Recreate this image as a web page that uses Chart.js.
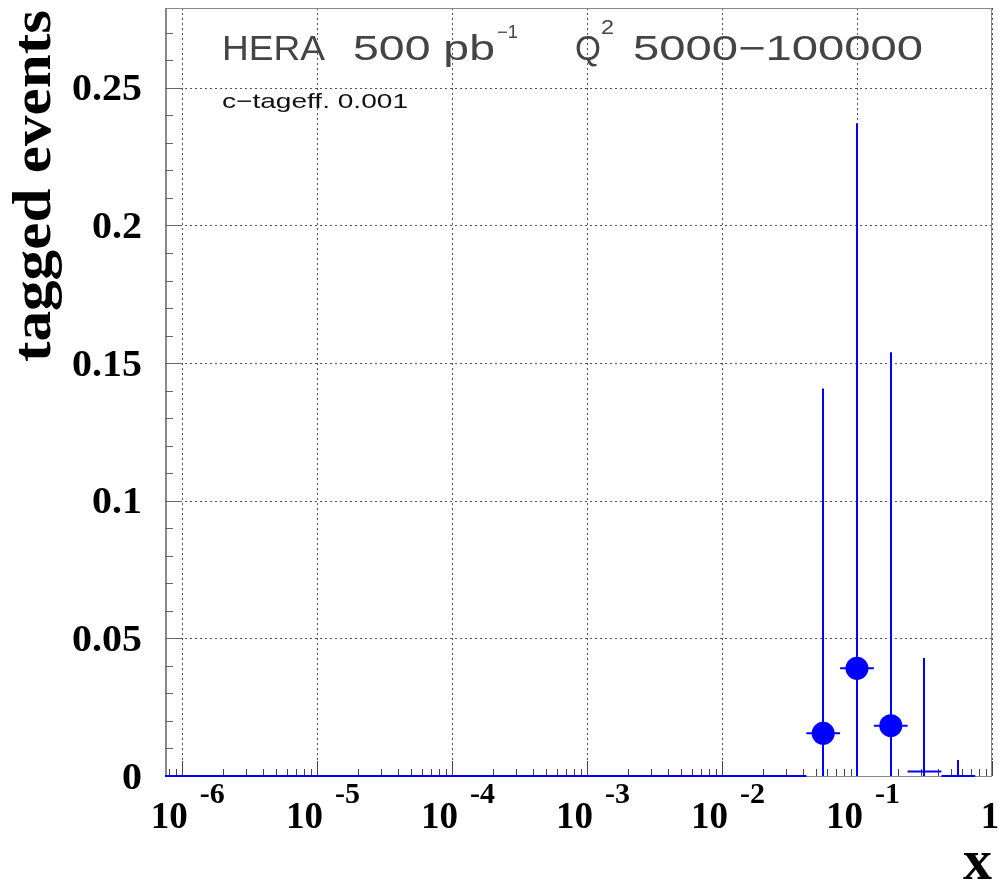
<!DOCTYPE html>
<html>
<head>
<meta charset="utf-8">
<script src="https://cdn.jsdelivr.net/npm/chart.js@4.4.1/dist/chart.umd.min.js"></script>
<style>
  html, body { margin: 0; padding: 0; background: #fff; }
</style>
</head>
<body>
<canvas id="chart" width="998" height="882"></canvas>
<script>
// bins are 0.25 decade wide in x
const binEdges = [0.0422, 0.075, 0.1334, 0.2371, 0.4217, 0.75];
const binCenters = [0.0562, 0.1, 0.178, 0.316, 0.562];
const taggedEvents = [0.0155, 0.0391, 0.0183, 0.0016, 0];
const statErrors = [0.1253, 0.198, 0.1356, 0.0413, 0.0058];
const showMarker = [true, true, true, false, false];
// empty bins, drawn as a line on zero
const emptyRange = [7.5e-7, 0.0422];

const xDecades = [1e-6, 1e-5, 1e-4, 1e-3, 1e-2, 1e-1, 1];
const xExponents = ['-6', '-5', '-4', '-3', '-2', '-1', ''];
const yTicks = [0, 0.05, 0.1, 0.15, 0.2, 0.25];
const yTickLabels = ['0', '0.05', '0.1', '0.15', '0.2', '0.25'];

const BLUE = '#0000ff';
const SERIF = '"Liberation Serif", "Times New Roman", serif';
const SANS = '"Liberation Sans", Arial, sans-serif';

function drawText(ctx, txt, x, y, font, sx, align) {
  ctx.save();
  ctx.font = font;
  ctx.textAlign = align || 'left';
  ctx.textBaseline = 'alphabetic';
  ctx.translate(x, y);
  ctx.scale(sx || 1, 1);
  ctx.fillText(txt, 0, 0);
  ctx.restore();
}

// scale text so it spans a given width
function fitText(ctx, txt, x, y, font, width) {
  ctx.save();
  ctx.font = font;
  ctx.textAlign = 'left';
  ctx.textBaseline = 'alphabetic';
  const s = width / ctx.measureText(txt).width;
  ctx.translate(x, y);
  ctx.scale(s, 1);
  ctx.fillText(txt, 0, 0);
  ctx.restore();
}

const framePlugin = {
  id: 'frame',
  beforeDatasetsDraw(chart) {
    const ctx = chart.ctx;
    const a = chart.chartArea;
    const xs = chart.scales.x, ys = chart.scales.y;

    ctx.save();
    // dotted grid
    ctx.strokeStyle = '#555';
    ctx.lineWidth = 1;
    ctx.setLineDash([2, 3]);
    xDecades.forEach(v => {
      const px = Math.round(xs.getPixelForValue(v)) + 0.5;
      ctx.beginPath(); ctx.moveTo(px, a.top); ctx.lineTo(px, a.bottom); ctx.stroke();
    });
    yTicks.forEach(v => {
      if (v === 0) return;
      const py = Math.round(ys.getPixelForValue(v)) + 0.5;
      ctx.beginPath(); ctx.moveTo(a.left, py); ctx.lineTo(a.right, py); ctx.stroke();
    });
    ctx.setLineDash([]);

    // frame
    ctx.strokeStyle = '#888';
    ctx.lineWidth = 1;
    ctx.strokeRect(a.left + 0.5, a.top + 0.5, a.right - a.left - 1, a.bottom - a.top);
    ctx.lineWidth = 2;
    ctx.beginPath(); ctx.moveTo(a.left + 1, a.top); ctx.lineTo(a.left + 1, a.bottom); ctx.stroke();

    // x ticks
    ctx.strokeStyle = '#444';
    ctx.lineWidth = 1;
    for (let d = -7; d <= 0; d++) {
      for (let k = 1; k <= 9; k++) {
        const v = k * Math.pow(10, d);
        if (v < xs.min || v > xs.max) continue;
        const px = Math.round(xs.getPixelForValue(v)) + 0.5;
        const len = k === 1 ? 15 : 7;
        ctx.beginPath(); ctx.moveTo(px, a.bottom); ctx.lineTo(px, a.bottom - len); ctx.stroke();
      }
    }
    // y ticks
    ctx.strokeStyle = '#666';
    for (let i = 0; i <= 27; i++) {
      const v = i * 0.01;
      const py = Math.round(ys.getPixelForValue(v)) + 0.5;
      const len = i % 5 === 0 ? 16 : 8;
      ctx.beginPath(); ctx.moveTo(a.left, py); ctx.lineTo(a.left + len, py); ctx.stroke();
    }

    // error bars
    ctx.beginPath();
    ctx.rect(a.left, a.top, a.right - a.left, a.bottom - a.top + 2);
    ctx.clip();
    ctx.strokeStyle = BLUE;
    ctx.lineWidth = 2;
    const y0 = ys.getPixelForValue(0);
    ctx.beginPath();
    ctx.moveTo(xs.getPixelForValue(emptyRange[0]), y0);
    ctx.lineTo(xs.getPixelForValue(emptyRange[1]), y0);
    ctx.stroke();
    binCenters.forEach((xc, i) => {
      const px = Math.round(xs.getPixelForValue(xc));
      const py = ys.getPixelForValue(taggedEvents[i]);
      const top = ys.getPixelForValue(taggedEvents[i] + statErrors[i]);
      const bot = ys.getPixelForValue(Math.max(0, taggedEvents[i] - statErrors[i]));
      ctx.beginPath(); ctx.moveTo(px, bot); ctx.lineTo(px, top); ctx.stroke();
      ctx.beginPath();
      ctx.moveTo(xs.getPixelForValue(binEdges[i]), py);
      ctx.lineTo(xs.getPixelForValue(binEdges[i + 1]), py);
      ctx.stroke();
    });
    ctx.restore();
  },
  afterDraw(chart) {
    const ctx = chart.ctx;
    const xs = chart.scales.x, ys = chart.scales.y;
    ctx.save();
    ctx.fillStyle = '#000';

    // y tick labels
    yTicks.forEach((v, i) => {
      const py = ys.getPixelForValue(v);
      drawText(ctx, yTickLabels[i], 142, py + 12.5, 'bold 37px ' + SERIF, 1.08, 'right');
    });
    // x tick labels, 10 with exponent
    xDecades.forEach((v, i) => {
      const px = xs.getPixelForValue(v);
      if (xExponents[i] === '') {
        drawText(ctx, '1', px - 2, 828, 'bold 37px ' + SERIF, 1, 'center');
      } else {
        drawText(ctx, '10', px + 6, 828, 'bold 37px ' + SERIF, 1, 'right');
        drawText(ctx, xExponents[i], px + 18, 803, 'bold 30px ' + SERIF, 1, 'left');
      }
    });

    // axis titles
    drawText(ctx, 'x', 992, 879, 'bold 58px ' + SERIF, 1, 'right');
    ctx.save();
    ctx.translate(50, 362);
    ctx.rotate(-Math.PI / 2);
    fitText(ctx, 'tagged events', 0, 0, 'bold 55px ' + SERIF, 352);
    ctx.restore();

    // header text
    ctx.fillStyle = '#444';
    fitText(ctx, 'HERA', 222, 60, '35px ' + SANS, 103);
    fitText(ctx, '500 pb', 353, 60, '35px ' + SANS, 142);
    fitText(ctx, '\u22121', 497, 38, '18px ' + SANS, 21);
    fitText(ctx, 'Q', 575, 60, '35px ' + SANS, 26);
    fitText(ctx, '2', 601, 34, '20px ' + SANS, 13);
    fitText(ctx, '5000\u2212100000', 633, 60, '35px ' + SANS, 290);
    ctx.fillStyle = '#111';
    fitText(ctx, 'c\u2212tageff. 0.001', 222, 108, '21px ' + SANS, 186);
    ctx.restore();
  }
};

new Chart(document.getElementById('chart'), {
  type: 'scatter',
  data: {
    datasets: [{
      data: binCenters.map((x, i) => ({ x: x, y: taggedEvents[i] })),
      pointRadius: showMarker.map(m => m ? 11.5 : 0),
      pointHoverRadius: 0,
      backgroundColor: BLUE,
      borderWidth: 0
    }]
  },
  options: {
    responsive: false,
    animation: false,
    layout: { autoPadding: false, padding: { left: 165, right: 6, top: 8, bottom: 106 } },
    plugins: { legend: { display: false }, tooltip: { enabled: false } },
    scales: {
      x: { type: 'logarithmic', min: 7.5e-7, max: 1, display: false },
      y: { type: 'linear', min: 0, max: 0.279, display: false }
    }
  },
  plugins: [framePlugin]
});
</script>
</body>
</html>
